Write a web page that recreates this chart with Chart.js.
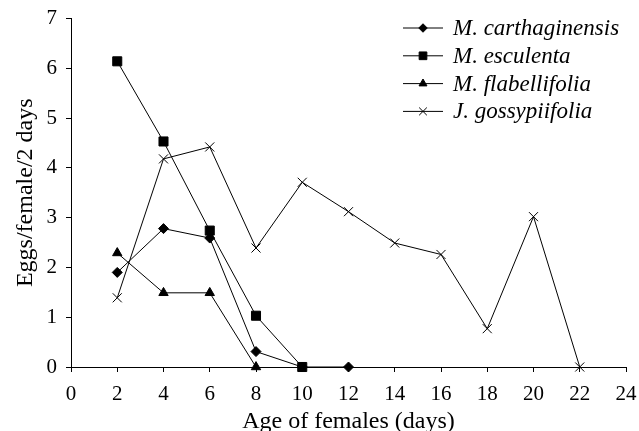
<!DOCTYPE html>
<html>
<head>
<meta charset="utf-8">
<title>Eggs per female</title>
<script src="https://cdn.jsdelivr.net/npm/chart.js@4.4.1/dist/chart.umd.min.js"></script>
<style>
  html, body { margin: 0; padding: 0; background: #fff; }
  canvas { display: block; }
</style>
</head>
<body>
<canvas id="eggChart" width="639" height="431"></canvas>
<script>
// Age of females (days) and eggs/female/2 days per host plant
const ages = [2, 4, 6, 8, 10, 12, 14, 16, 18, 20, 22];
const carthaginensis = [1.9, 2.78, 2.59, 0.31, 0, 0];
const esculenta = [6.14, 4.53, 2.74, 1.03, 0];
const flabellifolia = [2.29, 1.49, 1.49, 0];
const gossypiifolia = [1.39, 4.18, 4.42, 2.39, 3.71, 3.12, 2.49, 2.26, 0.77, 3.02, 0];
const seriesNames = ['M. carthaginensis', 'M. esculenta', 'M. flabellifolia', 'J. gossypiifolia'];
const xTicks = [0, 2, 4, 6, 8, 10, 12, 14, 16, 18, 20, 22, 24];
const yTicks = [0, 1, 2, 3, 4, 5, 6, 7];

const serif = '"Liberation Serif", "Times New Roman", serif';

function toPoints(values) {
    return values.map((v, i) => ({ x: ages[i], y: v }));
}

const markers = [
    { style: 'rectRot', radius: 5 },
    { style: 'rect', radius: 6.4 },
    { style: 'triangle', radius: 5.4 },
    { style: 'crossRot', radius: 6.4 }
];

const datasets = [carthaginensis, esculenta, flabellifolia, gossypiifolia].map((vals, i) => ({
    label: seriesNames[i],
    data: toPoints(vals),
    borderColor: '#000',
    borderWidth: 1,
    backgroundColor: '#000',
    pointStyle: markers[i].style,
    pointRadius: markers[i].radius,
    pointBorderWidth: 1,
    pointBorderColor: '#000',
    pointBackgroundColor: '#000',
    tension: 0,
    clip: false
}));

// legend drawn as line + marker + italic name, top right of the plot
const lineLegend = {
    id: 'lineLegend',
    afterDraw(chart) {
        const ctx = chart.ctx;
        const x0 = 403, x1 = 443, textX = 453;
        const top = 28, step = 27.8;
        ctx.save();
        ctx.font = 'italic 23px ' + serif;
        ctx.textBaseline = 'middle';
        ctx.fillStyle = '#000';
        chart.data.datasets.forEach((ds, i) => {
            const y = top + i * step;
            ctx.strokeStyle = '#000';
            ctx.lineWidth = 1;
            ctx.beginPath();
            ctx.moveTo(x0, y);
            ctx.lineTo(x1, y);
            ctx.stroke();
            Chart.helpers.drawPoint(ctx, {
                pointStyle: ds.pointStyle,
                radius: ds.pointRadius * 0.85,
                rotation: 0,
                borderWidth: 1
            }, (x0 + x1) / 2, y);
            ctx.fillText(ds.label, textX, y + 1);
        });
        ctx.restore();
    }
};

new Chart(document.getElementById('eggChart'), {
    type: 'line',
    data: { datasets },
    options: {
        responsive: false,
        animation: false,
        layout: { padding: { top: 18.5, right: 13, left: 0, bottom: 0 } },
        plugins: {
            legend: { display: false },
            tooltip: { enabled: false }
        },
        scales: {
            x: {
                type: 'linear',
                min: 0,
                max: 24,
                afterBuildTicks(scale) {
                    scale.ticks = xTicks.map(v => ({ value: v }));
                },
                afterFit(scale) {
                    scale.height = 64;
                    scale.paddingLeft = 0;
                    scale.paddingRight = 0;
                },
                grid: { drawOnChartArea: false, drawTicks: true, tickLength: 5, color: '#000' },
                border: { display: true, color: '#000', width: 1 },
                ticks: { color: '#000', font: { family: serif, size: 21 }, padding: 10, maxRotation: 0 },
                title: {
                    display: true,
                    text: 'Age of females (days)',
                    color: '#000',
                    font: { family: serif, size: 24 },
                    padding: { top: 0, bottom: -5 }
                }
            },
            y: {
                min: 0,
                max: 7,
                afterBuildTicks(scale) {
                    scale.ticks = yTicks.map(v => ({ value: v }));
                },
                afterFit(scale) {
                    scale.width = 71;
                    scale.paddingTop = 0;
                    scale.paddingBottom = 0;
                },
                grid: { drawOnChartArea: false, drawTicks: true, tickLength: 5, color: '#000' },
                border: { display: true, color: '#000', width: 1 },
                ticks: { color: '#000', font: { family: serif, size: 21 }, padding: 9 },
                title: {
                    display: true,
                    text: 'Eggs/female/2 days',
                    color: '#000',
                    font: { family: serif, size: 24 },
                    padding: { top: 11.5, bottom: 0 }
                }
            }
        }
    },
    plugins: [lineLegend]
});
</script>
</body>
</html>
